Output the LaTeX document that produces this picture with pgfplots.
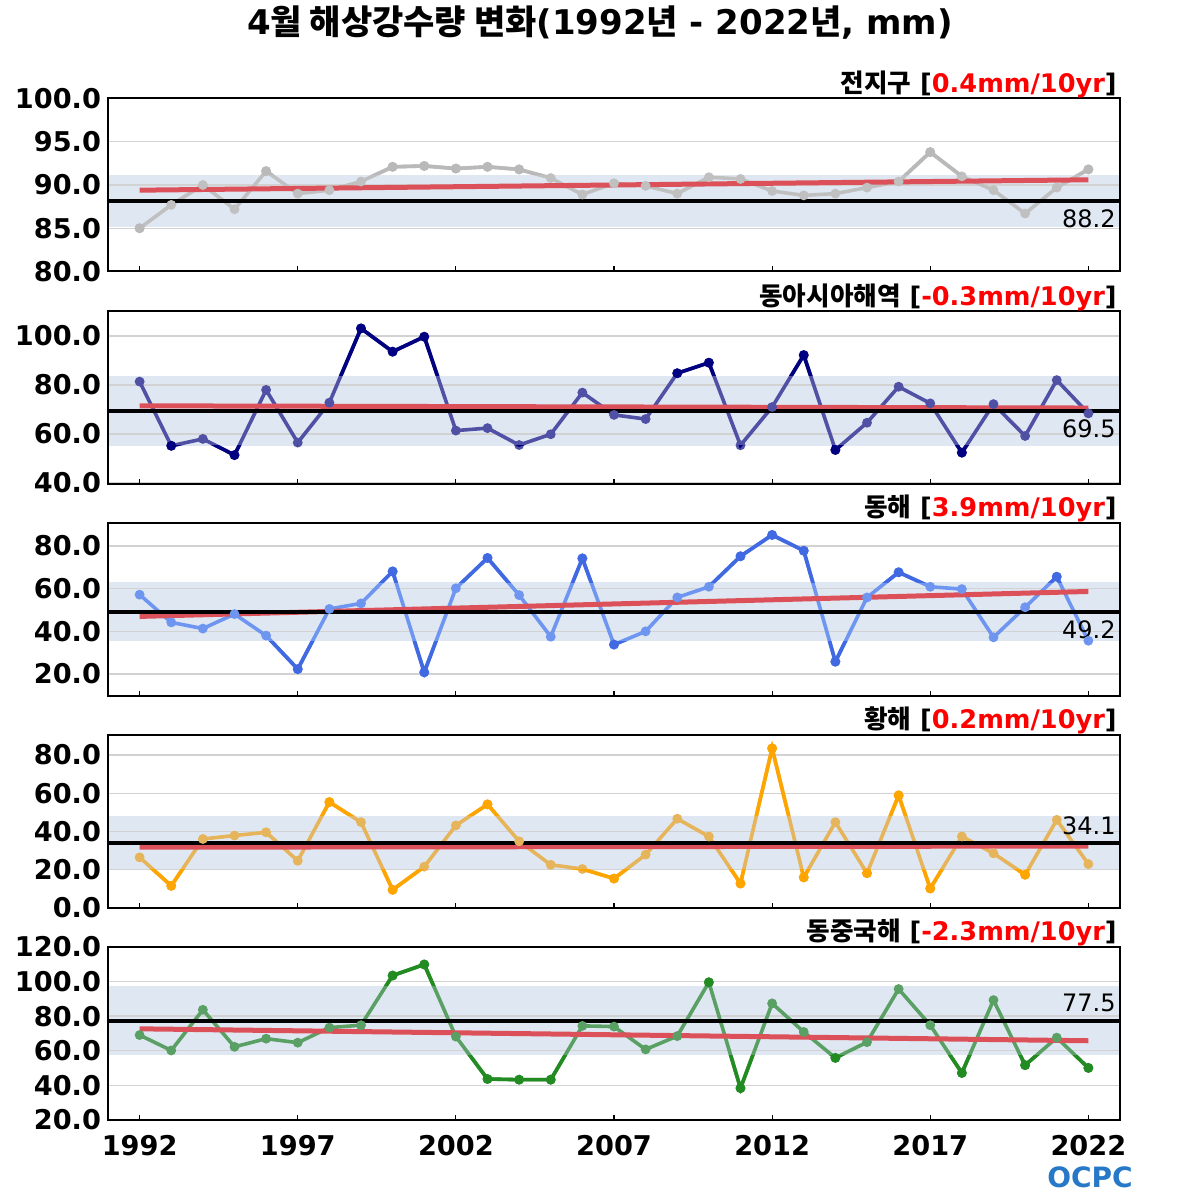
\documentclass[border=0pt]{standalone}
\usepackage{fontspec}
\setmainfont{DejaVu Sans}
\newfontfamily\kr{Noto Sans CJK KR}
\usepackage{pgfplots}
\usepackage{pgfplotstable}
\pgfplotsset{compat=1.18}
\pgfplotsset{set layers}

\definecolor{bandc}{RGB}{223,232,242}
\definecolor{trendc}{RGB}{220,80,90}
\definecolor{gridc}{RGB}{210,210,210}
\definecolor{lA}{RGB}{192,192,192}\definecolor{dA}{RGB}{185,185,185}
\definecolor{lB}{RGB}{80,80,165}\definecolor{dB}{RGB}{0,0,128}
\definecolor{lC}{RGB}{110,150,240}\definecolor{dC}{RGB}{65,105,225}
\definecolor{lD}{RGB}{230,180,90}\definecolor{dD}{RGB}{255,165,0}
\definecolor{lE}{RGB}{90,160,100}\definecolor{dE}{RGB}{34,139,34}
\definecolor{ocpc}{RGB}{40,120,200}

\pgfplotstableread{
year val
1992 85.0
1993 87.7
1994 90.0
1995 87.2
1996 91.6
1997 89.0
1998 89.4
1999 90.4
2000 92.1
2001 92.2
2002 91.9
2003 92.1
2004 91.8
2005 90.8
2006 88.9
2007 90.2
2008 89.9
2009 89.0
2010 90.9
2011 90.7
2012 89.3
2013 88.8
2014 89.0
2015 89.7
2016 90.4
2017 93.8
2018 91.0
2019 89.4
2020 86.7
2021 89.7
2022 91.8
}\dataA

\pgfplotstableread{
year val
1992 81.4
1993 55.2
1994 58.0
1995 51.4
1996 78.0
1997 56.5
1998 72.8
1999 103.1
2000 93.6
2001 99.7
2002 61.4
2003 62.4
2004 55.5
2005 59.9
2006 76.9
2007 67.8
2008 66.1
2009 84.8
2010 89.1
2011 55.4
2012 71.0
2013 92.2
2014 53.5
2015 64.6
2016 79.3
2017 72.5
2018 52.4
2019 72.2
2020 59.2
2021 82.0
2022 68.4
}\dataB

\pgfplotstableread{
year val
1992 57.2
1993 44.2
1994 41.3
1995 48.1
1996 38.0
1997 22.3
1998 50.5
1999 53.1
2000 68.1
2001 20.8
2002 60.2
2003 74.4
2004 57.0
2005 37.5
2006 74.2
2007 33.8
2008 40.0
2009 55.9
2010 60.9
2011 75.2
2012 85.2
2013 77.8
2014 25.8
2015 55.9
2016 67.7
2017 60.9
2018 59.8
2019 37.2
2020 51.3
2021 65.6
2022 35.6
}\dataC

\pgfplotstableread{
year val
1992 26.5
1993 11.6
1994 36.1
1995 37.9
1996 39.6
1997 24.7
1998 55.4
1999 44.9
2000 9.5
2001 21.6
2002 43.2
2003 54.2
2004 34.9
2005 22.6
2006 20.4
2007 15.4
2008 27.9
2009 46.7
2010 37.4
2011 12.8
2012 83.5
2013 16.0
2014 44.9
2015 18.2
2016 58.9
2017 10.2
2018 37.4
2019 28.6
2020 17.4
2021 46.1
2022 23.0
}\dataD

\pgfplotstableread{
year val
1992 69.1
1993 60.2
1994 83.7
1995 62.3
1996 67.0
1997 64.7
1998 73.4
1999 74.8
2000 103.5
2001 109.9
2002 68.2
2003 43.7
2004 43.3
2005 43.3
2006 74.4
2007 74.0
2008 60.8
2009 68.5
2010 99.6
2011 38.4
2012 87.4
2013 70.9
2014 55.9
2015 65.0
2016 95.7
2017 74.8
2018 47.2
2019 89.3
2020 51.7
2021 67.6
2022 50.1
}\dataE

\pgfplotsset{
  base/.style={
    scale only axis, width=506pt, height=86.5pt, anchor=south west,
    xmin=1991, xmax=2023,
    xtick={1992,1997,...,2022},
    xtick pos=bottom, tick align=inside,
    major tick length=2.5pt,
    ytick style={draw=none},
    xtick style={black, line width=0.6pt},
    axis line style={black, line width=1pt},
    ymajorgrids, grid style={gridc, line width=0.7pt},
    /pgf/number format/assume math mode=true,
    tick label style={font=\bfseries\fontsize{13.6}{14}\selectfont},
    yticklabel style={/pgf/number format/fixed, /pgf/number format/fixed zerofill, /pgf/number format/precision=1},
    xticklabels={},
  },
  ovl/.style={
    scale only axis, width=506pt, anchor=south west,
    xmin=1991, xmax=2023, hide axis,
  },
  dline/.style={line width=1.8pt, mark=*, mark size=1.5pt},
}

\newcommand\ptitle[3]{%
  \node[anchor=base east, inner sep=0pt, font=\bfseries\fontsize{12.8}{13}\selectfont]
    at ([xshift=-1.5pt,yshift=3pt]#1.north east) {{\kr #2} [{\color{red}#3}]};}

% #1 bottom  #2 ymin  #3 ymax  #4 lo  #5 hi  #6 color  #7 table
\newcommand\darkplots[7]{%
  \pgfmathsetmacro\htop{86.5*(#3-#5)/(#3-#2)}%
  \pgfmathsetmacro\ytop{#1+86.5*(#5-#2)/(#3-#2)}%
  \pgfmathsetmacro\hbot{86.5*(#4-#2)/(#3-#2)}%
  \begin{axis}[ovl, at={(54pt,\ytop pt)}, height=\htop pt, ymin=#5, ymax=#3]
    \addplot[#6, dline] table[x=year,y=val]{#7};
  \end{axis}
  \begin{axis}[ovl, at={(54pt,#1pt)}, height=\hbot pt, ymin=#2, ymax=#4]
    \addplot[#6, dline] table[x=year,y=val]{#7};
  \end{axis}%
}

\begin{document}
\begin{tikzpicture}

\node[font=\bfseries\fontsize{17}{19}\selectfont] at (300pt,588.5pt)
  {4{\kr 월 해상강수량 변화}(1992{\kr 년} - 2022{\kr 년}, mm)};

% ---------- Panel 1
\begin{axis}[base, name=pA, at={(54pt,464.25pt)}, ymin=80, ymax=100, ytick={80,85,...,100}]
  \addplot[on layer=axis background, fill=bandc, draw=none] coordinates {(1991,85.2) (2023,85.2) (2023,91.2) (1991,91.2)} -- cycle;
  \addplot[lA, dline] table[x=year,y=val]{\dataA};
  \addplot[trendc, line width=2.5pt] coordinates {(1992,89.4) (2022,90.6)};
  \addplot[black, line width=2pt] coordinates {(1991,88.2) (2023,88.2)};
  \node[anchor=north east, font=\fontsize{12}{13}\selectfont, inner sep=2pt] at (axis cs:2023,87.6) {88.2};
\end{axis}
\darkplots{464.25}{80}{100}{85.2}{91.2}{dA}{\dataA}
\ptitle{pA}{전지구}{0.4mm/10yr}

% ---------- Panel 2
\begin{axis}[base, name=pB, at={(54pt,358pt)}, ymin=39.6, ymax=110.2, ytick={40,60,80,100}]
  \addplot[on layer=axis background, fill=bandc, draw=none] coordinates {(1991,55.3) (2023,55.3) (2023,83.7) (1991,83.7)} -- cycle;
  \addplot[lB, dline] table[x=year,y=val]{\dataB};
  \addplot[trendc, line width=2.5pt] coordinates {(1992,71.5) (2022,70.6)};
  \addplot[black, line width=2pt] coordinates {(1991,69.5) (2023,69.5)};
  \node[anchor=north east, font=\fontsize{12}{13}\selectfont, inner sep=2pt] at (axis cs:2023,67.5) {69.5};
\end{axis}
\darkplots{358}{39.6}{110.2}{55.3}{83.7}{dB}{\dataB}
\ptitle{pB}{동아시아해역}{-0.3mm/10yr}

% ---------- Panel 3
\begin{axis}[base, name=pC, at={(54pt,252pt)}, ymin=9.7, ymax=90.8, ytick={20,40,60,80}]
  \addplot[on layer=axis background, fill=bandc, draw=none] coordinates {(1991,35.45) (2023,35.45) (2023,62.95) (1991,62.95)} -- cycle;
  \addplot[lC, dline] table[x=year,y=val]{\dataC};
  \addplot[trendc, line width=2.5pt] coordinates {(1992,47.0) (2022,58.7)};
  \addplot[black, line width=2pt] coordinates {(1991,49.2) (2023,49.2)};
  \node[anchor=north east, font=\fontsize{12}{13}\selectfont, inner sep=2pt] at (axis cs:2023,47.0) {49.2};
\end{axis}
\darkplots{252}{9.7}{90.8}{35.45}{62.95}{dC}{\dataC}
\ptitle{pC}{동해}{3.9mm/10yr}

% ---------- Panel 4
\begin{axis}[base, name=pD, at={(54pt,146pt)}, ymin=0, ymax=90.5, ytick={0,20,...,80}]
  \addplot[on layer=axis background, fill=bandc, draw=none] coordinates {(1991,19.9) (2023,19.9) (2023,48.3) (1991,48.3)} -- cycle;
  \addplot[lD, dline] table[x=year,y=val]{\dataD};
  \addplot[trendc, line width=2.5pt] coordinates {(1992,31.8) (2022,32.4)};
  \addplot[black, line width=2pt] coordinates {(1991,34.1) (2023,34.1)};
  \node[anchor=south east, font=\fontsize{12}{13}\selectfont, inner sep=2pt] at (axis cs:2023,36.0) {34.1};
\end{axis}
\darkplots{146}{0}{90.5}{19.9}{48.3}{dD}{\dataD}
\ptitle{pD}{황해}{0.2mm/10yr}

% ---------- Panel 5
\begin{axis}[base, name=pE, at={(54pt,40pt)}, ymin=20, ymax=120, ytick={20,40,...,120},
  xticklabels={1992,1997,2002,2007,2012,2017,2022}, xticklabel style={yshift=-4pt}]
  \addplot[on layer=axis background, fill=bandc, draw=none] coordinates {(1991,57.4) (2023,57.4) (2023,97.6) (1991,97.6)} -- cycle;
  \addplot[lE, dline] table[x=year,y=val]{\dataE};
  \addplot[trendc, line width=2.5pt] coordinates {(1992,72.7) (2022,65.8)};
  \addplot[black, line width=2pt] coordinates {(1991,77.5) (2023,77.5)};
  \node[anchor=south east, font=\fontsize{12}{13}\selectfont, inner sep=2pt] at (axis cs:2023,80.0) {77.5};
\end{axis}
\darkplots{40}{20}{120}{57.4}{97.6}{dE}{\dataE}
\ptitle{pE}{동중국해}{-2.3mm/10yr}

\node[font=\bfseries\fontsize{14}{15}\selectfont, text=ocpc] at (545pt,11.5pt) {OCPC};

\pgfresetboundingbox
\path (0,0) rectangle (600pt,600pt);
\end{tikzpicture}
\end{document}
